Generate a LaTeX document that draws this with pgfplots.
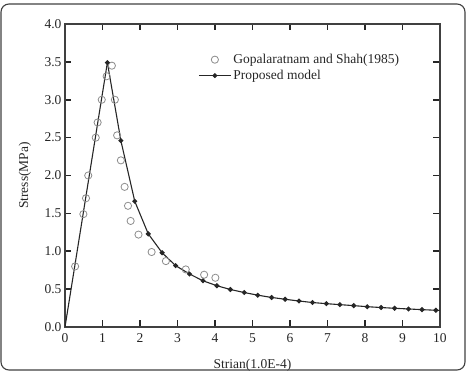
\documentclass[border=0pt]{standalone}
\usepackage{fontspec}
\setmainfont{Liberation Serif}
\usepackage{pgfplots}
\pgfplotsset{compat=1.18}
\begin{document}
\begin{tikzpicture}
\begin{axis}[
 at={(0pt,0pt)}, anchor=south west,
 scale only axis, width=375pt, height=303pt,
 xmin=0, xmax=10, ymin=0, ymax=4,
 xtick={0,1,2,3,4,5,6,7,8,9,10}, ytick={0,0.5,1,1.5,2,2.5,3,3.5,4},
 xtick pos=both, ytick pos=both,
 xtick align=inside, ytick align=inside, major tick length=6.5pt,
 axis line style={line width=1.2pt, black!75},
 every tick/.style={line width=1.6pt, black!85},
 font=\fontsize{13.5}{16}\selectfont,
 tick label style={black!85},
 /pgf/number format/assume math mode=true,
 yticklabel style={/pgf/number format/.cd, fixed, fixed zerofill, precision=1},
 xticklabel style={yshift=-3pt, /pgf/number format/.cd, fixed, precision=0},
 xlabel={Strian(1.0E-4)}, ylabel={Stress(MPa)},
 every axis x label/.style={at={(axis description cs:0.5,-0.125)}, anchor=center, black!85},
 every axis y label/.style={at={(axis description cs:-0.107,0.5)}, anchor=center, rotate=90, black!85},
 legend style={at={(axis description cs:0.347,0.914)}, anchor=north west, draw=none, fill=none,
   font=\fontsize{13.5}{16}\selectfont, row sep=1pt, text=black!85},
 legend cell align=left,
 legend image code/.code={\draw[mark repeat=2,mark phase=2,#1] plot coordinates {(0pt,0pt) (16pt,0pt) (32pt,0pt)};},
]
\addplot[only marks, mark=o, mark size=3.6pt, draw=gray!90, mark options={line width=0.8pt}] coordinates {
(0.27,0.80) (0.49,1.49) (0.56,1.70) (0.62,2.00) (0.82,2.50) (0.87,2.70) (0.98,3.00)
(1.11,3.31) (1.25,3.45) (1.33,3.00) (1.39,2.53) (1.49,2.20) (1.59,1.85) (1.68,1.60)
(1.75,1.40) (1.96,1.22) (2.31,0.99) (2.69,0.87) (3.22,0.76) (3.71,0.69) (4.01,0.65)
};
\addlegendentry{Gopalaratnam and Shah(1985)}
\addplot[black!85, line width=1.1pt, forget plot] coordinates {(0,0) (1.13,3.49)};
\addplot[black!85, line width=1.1pt, mark=*, mark size=1.9pt] coordinates {
(1.13,3.49) (1.49,2.46) (1.86,1.66) (2.22,1.23) (2.59,0.98) (2.95,0.81) (3.32,0.70)
(3.68,0.61) (4.05,0.545) (4.41,0.495) (4.78,0.455) (5.14,0.42) (5.51,0.39) (5.87,0.366)
(6.24,0.343) (6.60,0.323) (6.97,0.308) (7.33,0.295) (7.70,0.282) (8.06,0.268) (8.43,0.257)
(8.79,0.247) (9.16,0.238) (9.52,0.229) (9.89,0.221)
};
\addlegendentry{Proposed model}
\addplot[black!85, line width=1.1pt, forget plot] coordinates {(9.89,0.221) (10,0.219)};
\end{axis}
\draw[rounded corners=8pt, line width=1.1pt, black!75] (-64pt,-43pt) rectangle (400pt,323pt);
\path (-65pt,-45pt) rectangle (402pt,327pt);
\end{tikzpicture}
\end{document}
